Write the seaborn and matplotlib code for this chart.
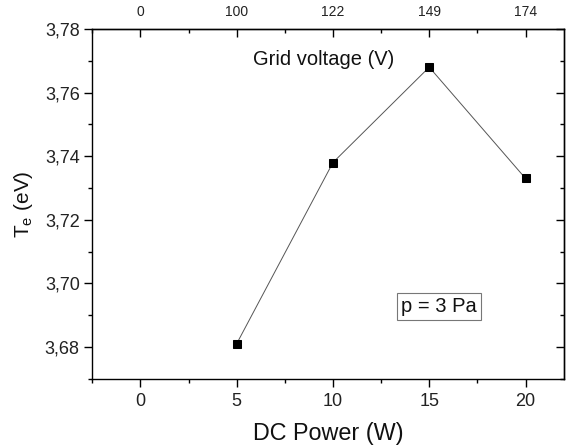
import matplotlib
matplotlib.use("Agg")
import matplotlib.pyplot as plt
import seaborn as sns
import pandas as pd
from matplotlib.ticker import MultipleLocator, FuncFormatter, FixedLocator, FixedFormatter

# Data
dc_power = [5, 10, 15, 20]
te_values = [3.681, 3.738, 3.768, 3.733]
top_tick_positions = [0, 5, 10, 15, 20]
top_tick_labels = ["0", "100", "122", "149", "174"]

sns.set_theme(style="white")
plt.rcParams['font.family'] = ['Liberation Sans', 'DejaVu Sans']
plt.rcParams['mathtext.fontset'] = 'custom'
plt.rcParams['mathtext.rm'] = 'Liberation Sans'

df = pd.DataFrame({"power": dc_power, "te": te_values})

fig = plt.figure(figsize=(5.66, 4.45), dpi=100)
ax = fig.add_axes([0.163, 0.149, 0.8335, 0.7858])

sns.lineplot(data=df, x="power", y="te", ax=ax, color="#555555", linewidth=0.7,
             marker="s", markersize=5.5, markerfacecolor="black",
             markeredgecolor="black")

ax.set_xlim(-2.5, 22)
ax.set_ylim(3.67, 3.78)

for s in ax.spines.values():
    s.set_color("black")
    s.set_linewidth(1.0)

ax.xaxis.set_major_locator(MultipleLocator(5))
ax.xaxis.set_minor_locator(MultipleLocator(2.5))
ax.yaxis.set_major_locator(MultipleLocator(0.02))
ax.yaxis.set_minor_locator(MultipleLocator(0.01))
ax.yaxis.set_major_formatter(FuncFormatter(lambda v, p: f"{v:.2f}".replace('.', ',')))

ax.tick_params(axis='both', which='both', direction='out', color='black',
               bottom=True, left=True, top=False, right=False)
ax.tick_params(axis='both', which='major', length=6, width=1, labelsize=13, labelcolor='#222222')
ax.tick_params(axis='both', which='minor', length=3, width=1)
ax.tick_params(axis='x', which='major', pad=4)
ax.tick_params(axis='y', which='major', pad=3)

# Right axis: inward ticks, no labels
ry = ax.secondary_yaxis('right')
ry.yaxis.set_major_locator(MultipleLocator(0.02))
ry.yaxis.set_minor_locator(MultipleLocator(0.01))
ry.tick_params(which='both', direction='in', labelright=False, color='black')
ry.tick_params(which='major', length=6, width=1)
ry.tick_params(which='minor', length=3, width=1)
ry.spines['right'].set_linewidth(1.0)

# Top axis: grid voltage
tx = ax.secondary_xaxis('top')
tx.xaxis.set_major_locator(FixedLocator(top_tick_positions))
tx.xaxis.set_major_formatter(FixedFormatter(top_tick_labels))
tx.xaxis.set_minor_locator(MultipleLocator(2.5))
tx.tick_params(which='both', direction='in', color='black')
tx.tick_params(which='major', length=6, width=1, labelsize=10, pad=7, labelcolor='#222222')
tx.tick_params(which='minor', length=3, width=1)
tx.spines['top'].set_linewidth(1.0)

ax.set_xlabel("DC Power (W)", fontsize=16.8, color='#111111', labelpad=9)
ax.set_ylabel(r"T$_\mathregular{e}$ (eV)", fontsize=15, color='#111111', labelpad=7)

ax.text(9.5, 3.7705, "Grid voltage (V)", fontsize=14.5, ha='center', va='center', color='#111111')
ax.text(15.5, 3.6926, "p = 3 Pa", fontsize=14.5, ha='center', va='center', color='#111111',
        bbox=dict(boxstyle='square,pad=0.2', facecolor='white', edgecolor='#777777', linewidth=0.8))

fig.savefig("out.png", dpi=100)
